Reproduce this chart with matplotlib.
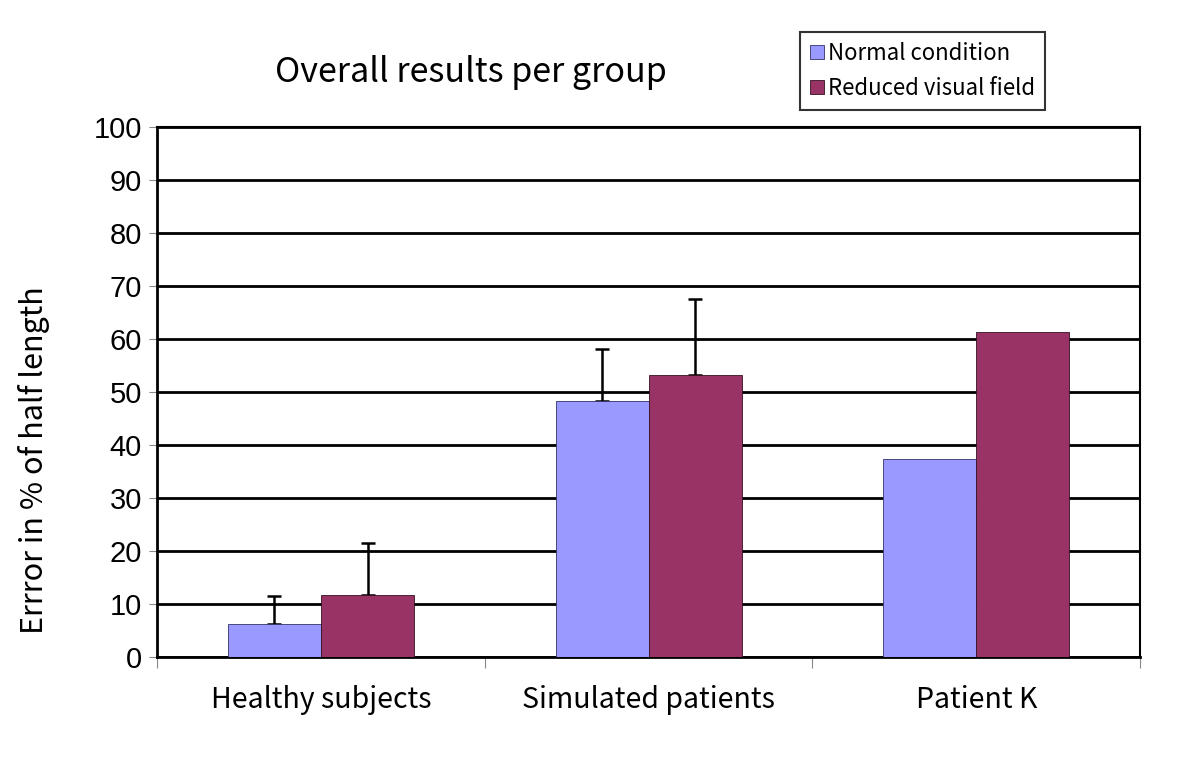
import numpy as np
import matplotlib.pyplot as plt

groups = ["Healthy subjects", "Simulated patients", "Patient K"]
normal = [6.1, 48.2, 37.3]
reduced = [11.6, 53.2, 61.4]
normal_err = [5.4, 9.9, 0]
reduced_err = [9.9, 14.3, 0]
series_names = ["Normal condition", "Reduced visual field"]

plt.rcParams['font.family'] = ['Liberation Sans', 'DejaVu Sans']
jp = ['Noto Sans CJK JP', 'DejaVu Sans']

fig = plt.figure(figsize=(12, 7.61), dpi=100)
ax = fig.add_axes([0.131, 0.137, 0.819, 0.696])

x = np.arange(len(groups))
w = 0.284
ax.bar(x - w / 2, normal, w, color='#9999FF', edgecolor='#333366', linewidth=0.6,
       label=series_names[0], zorder=3)
ax.bar(x + w / 2, reduced, w, color='#993366', edgecolor='#331122', linewidth=0.6,
       label=series_names[1], zorder=3)

# only upward error bars, skip groups without spread
for xs, vals, errs in [(x - w / 2, normal, normal_err), (x + w / 2, reduced, reduced_err)]:
    for xi, v, e in zip(xs, vals, errs):
        if e > 0:
            ax.errorbar(xi, v, yerr=[[0], [e]], fmt='none', ecolor='black',
                        elinewidth=1.8, capsize=5, capthick=1.8, zorder=2)

ax.set_xlim(-0.5, 2.5)
ax.set_ylim(0, 100)
ax.set_yticks(np.arange(0, 101, 10))
ax.yaxis.grid(True, color='black', linewidth=2)
ax.set_axisbelow(True)
ax.tick_params(axis='y', labelsize=21, length=6, color='#888888', direction='out', pad=5)

ax.set_xticks([-0.5, 0.5, 1.5, 2.5])
ax.set_xticklabels([])
ax.tick_params(axis='x', length=8, color='#888888', direction='out')
ax.set_xticks(x, minor=True)
ax.set_xticklabels(groups, minor=True, fontsize=20.5, family=jp)
ax.tick_params(axis='x', which='minor', length=0, pad=20)

for s in ax.spines.values():
    s.set_color('black')
    s.set_linewidth(1.5)
ax.spines['left'].set_linewidth(2)
ax.spines['bottom'].set_linewidth(2)

ax.set_ylabel("Errror in % of half length", fontsize=22, family=jp)
ax.yaxis.set_label_coords(-0.109, 0.372)
fig.text(0.392, 0.905, "Overall results per group", fontsize=24.5, family=jp,
         ha='center', va='center')

leg = fig.legend(loc='upper left', bbox_to_anchor=(0.667, 0.958),
                 prop={'family': jp, 'size': 16}, frameon=True, fancybox=False,
                 edgecolor='black', handlelength=0.6, handleheight=0.6,
                 handletextpad=0.2, labelspacing=0.55, borderpad=0.45,
                 borderaxespad=0)
leg.get_frame().set_linewidth(1.5)

fig.savefig("out.png", dpi=100, facecolor='white')
